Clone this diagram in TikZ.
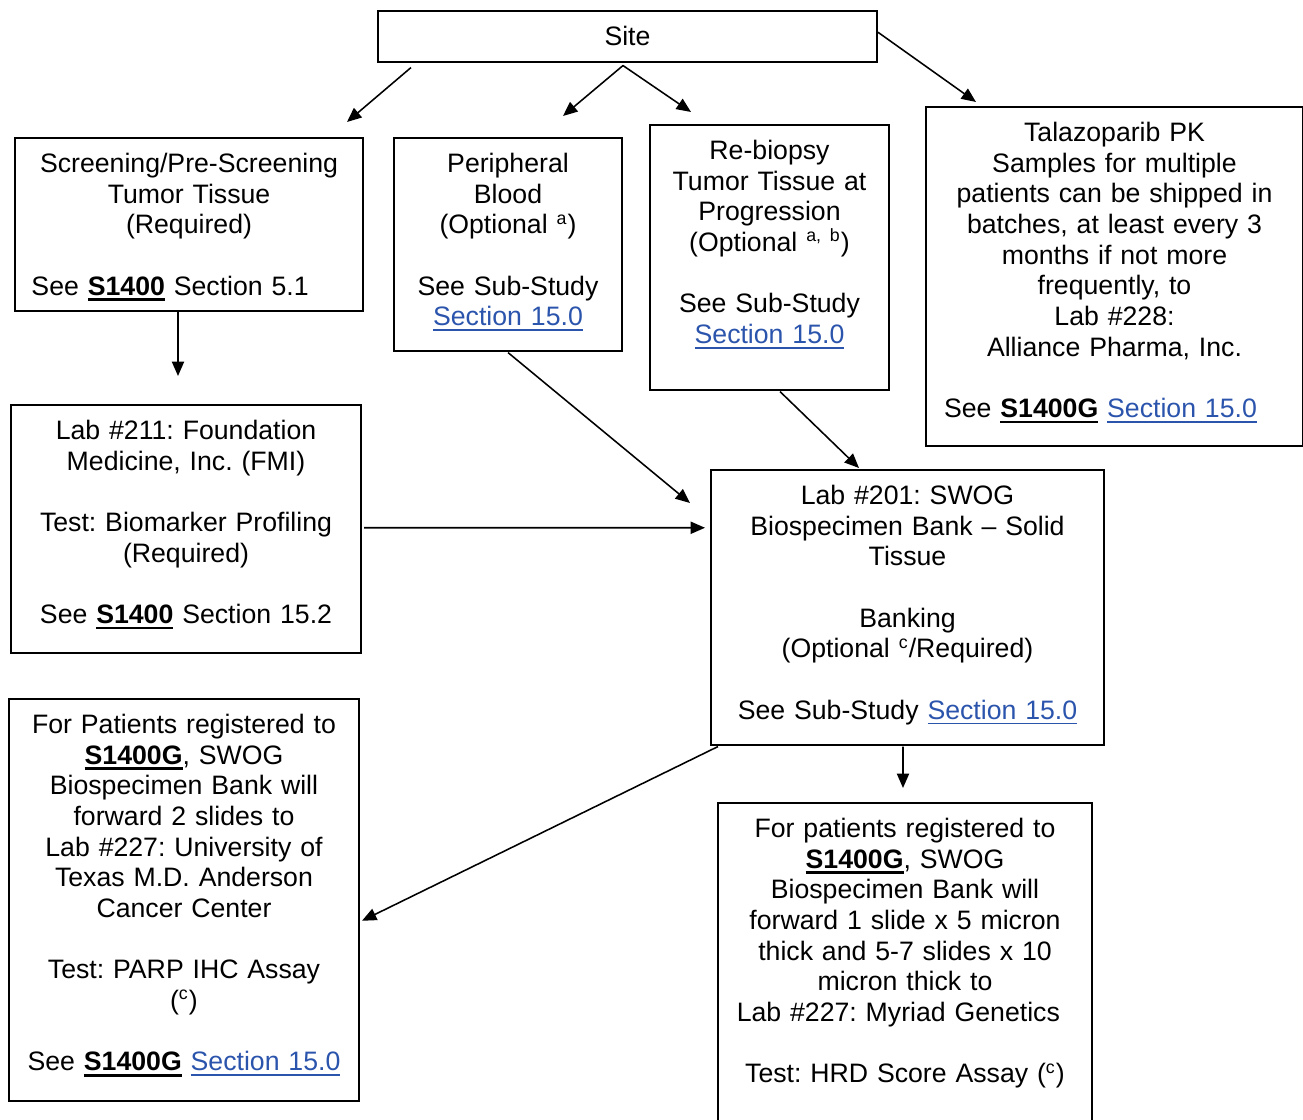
\documentclass[tikz,border=0pt]{standalone}
\usepackage{fontspec}
\setmainfont{Liberation Sans}
\usetikzlibrary{arrows.meta,calc}
\definecolor{linkblue}{RGB}{43,84,172}
\newsavebox{\ulbox}
\newcommand{\study}[1]{\leavevmode\sbox{\ulbox}{\textbf{#1}}\rlap{\rule[-2.5pt]{\wd\ulbox}{1.1pt}}\usebox{\ulbox}}
\newcommand{\seclink}[1]{\leavevmode\textcolor{linkblue}{\sbox{\ulbox}{#1}\rlap{\rule[-2.2pt]{\wd\ulbox}{0.7pt}}\usebox{\ulbox}}}
\frenchspacing

\begin{document}
\begin{tikzpicture}[x=0.45pt, y=-0.45pt, line/.style={-{Triangle[length=6.5pt,width=5.5pt]}, line width=0.7pt}, panel/.style={draw, line width=0.9pt, anchor=north west, inner sep=0pt, align=center, font=\fontsize{12}{13.8}\selectfont, text height=15.6pt}]
\useasboundingbox (0,0) rectangle (1303,1120);
% top row
\node[panel, text width=224.55pt, text depth=7.15pt] (site) at (377,10) {Site};
\node[panel, text width=156.6pt, text depth=62.05pt] (scr) at (14,137) {Screening/Pre-Screening\\Tumor Tissue\\(Required)\\[13.8pt]See \study{S1400} Section 5.1\hspace*{17pt}\null};
\node[panel, text width=102.6pt, text depth=80.05pt] (blood) at (393,137) {Peripheral\\Blood\\(Optional \textsuperscript{a})\\[13.8pt]See Sub-Study\\\seclink{Section 15.0}};
\node[panel, text width=107.55pt, text depth=103.45pt] (rebio) at (649,124) {Re-biopsy\\Tumor Tissue at\\Progression\\(Optional \textsuperscript{a, b})\\[13.8pt]See Sub-Study\\\seclink{Section 15.0}};
\node[panel, text width=169.65pt, text depth=136.75pt] (pk) at (925,106) {Talazoparib PK\\Samples for multiple\\patients can be shipped in\\batches, at least every 3\\months if not more\\frequently, to\\Lab \#228:\\Alliance Pharma, Inc.\\[13.8pt]See \study{S1400G} \seclink{Section 15.0}\hspace*{12.6pt}\null};
% labs
\node[panel, text width=157.5pt, text depth=95.8pt] (fmi) at (10,404) {Lab \#211: Foundation\\Medicine, Inc. (FMI)\\[13.8pt]Test: Biomarker Profiling\\(Required)\\[13.8pt]See \study{S1400} Section 15.2};
\node[panel, text width=176.85pt, text depth=107.95pt] (bank) at (710,469) {Lab \#201: SWOG\\Biospecimen Bank – Solid\\Tissue\\[13.8pt]Banking\\(Optional \textsuperscript{c}/Required)\\[13.8pt]See Sub-Study \seclink{Section 15.0}};
\node[panel, text width=157.5pt, text depth=165.1pt] (mda) at (8,698) {For Patients registered to\\\study{S1400G}, SWOG\\Biospecimen Bank will\\forward 2 slides to\\Lab \#227: University of\\Texas M.D. Anderson\\Cancer Center\\[13.8pt]Test: PARP IHC Assay\\(\textsuperscript{c})\\[13.8pt]See \study{S1400G} \seclink{Section 15.0}};
\node[panel, text width=168.3pt, text depth=132.7pt] (myriad) at (717,802) {For patients registered to\\\study{S1400G}, SWOG\\Biospecimen Bank will\\forward 1 slide x 5 micron\\thick and 5-7 slides x 10\\micron thick to\\Lab \#227: Myriad Genetics\hspace*{6pt}\null\\[13.8pt]Test: HRD Score Assay (\textsuperscript{c})};
% arrows
\draw[line] ($(site.south west)+(34,5)$) -- ($(scr.north east)+(-17,-15)$);
\draw[line] ($(site.south)+(-4.5,3)$) -- ($(blood.north)+(55,-21)$);
\draw[line] ($(site.south)+(-4.5,3)$) -- ($(rebio.north)+(-78.5,-12)$);
\draw[line] ($(site.east)+(0,-4)$) -- ($(pk.north west)+(51,-4)$);
\draw[line] ($(scr.south)+(-11,0)$) -- ($(fmi.north)+(-8,-28)$);
\draw[line] ($(blood.south)+(0,1)$) -- ($(bank.north west)+(-20,34)$);
\draw[line] ($(rebio.south)+(10.5,1)$) -- ($(bank.north)+(-48.5,-1)$);
\draw[line] ($(fmi.east)+(2,-1)$) -- ($(bank.west)+(-5,-79.5)$);
\draw[line] ($(bank.south west)+(8,1)$) -- ($(mda.east)+(2,21)$);
\draw[line] ($(bank.south)+(-4.5,1)$) -- ($(myriad.north)+(-2,-14)$);
\end{tikzpicture}
\end{document}
